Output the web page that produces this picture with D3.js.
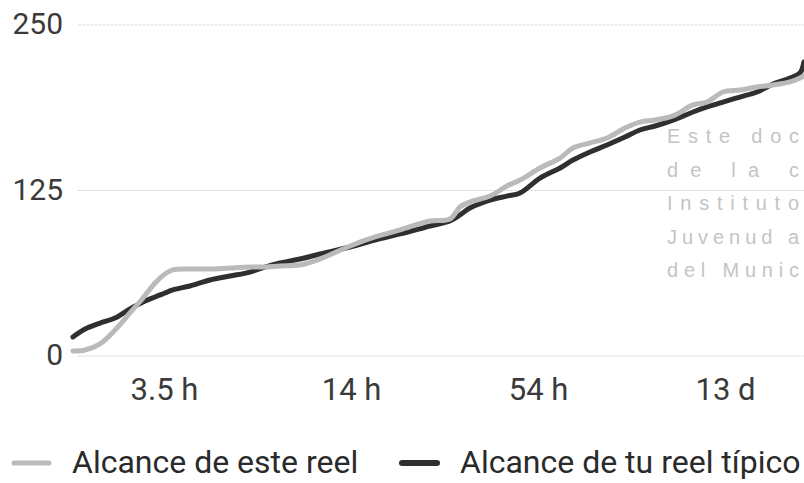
<!DOCTYPE html>
<html>
<head>
<meta charset="utf-8">
<script src="https://cdn.jsdelivr.net/npm/d3@7"></script>
<style>
  html, body { margin: 0; padding: 0; background: #fff; overflow: hidden; }
  svg { display: block; }
</style>
</head>
<body>
<svg id="chart" width="804" height="483"></svg>
<script>
// ---- data ----
const tickLabels = ["3.5 h", "14 h", "54 h", "13 d"];
const tickPos = [1, 2, 3, 4];           // time position of each tick label (tick index units)
const yTicks = [0, 125, 250];
const seriesNames = ["Alcance de este reel", "Alcance de tu reel típico"];

// time position of each sample (tick index units)
const timeIdx = [0.513, 0.578, 0.658, 0.738, 0.818, 0.888, 0.952, 1.005, 1.043, 1.139,
  1.246, 1.353, 1.460, 1.540, 1.620, 1.727, 1.834, 1.995, 2.128, 2.262,
  2.422, 2.529, 2.583, 2.636, 2.743, 2.834, 2.904, 3.011, 3.118, 3.187,
  3.278, 3.369, 3.465, 3.545, 3.626, 3.722, 3.829, 3.904, 3.989, 4.080,
  4.171, 4.257, 4.348, 4.401, 4.422];

const esteReel = [3.8, 4.5, 9.1, 19.6, 32.5, 43.8, 55.1, 61.9, 64.9, 65.7,
  65.7, 66.5, 67.2, 67.2, 68.0, 68.7, 73.3, 83.1, 89.9, 95.2,
  102.0, 103.5, 112.5, 116.3, 120.8, 128.4, 132.9, 142.0, 149.5, 157.1,
  160.9, 164.7, 172.2, 176.7, 178.2, 181.3, 189.6, 191.8, 199.4, 200.9,
  203.2, 204.7, 207.0, 210.0, 211.5];

const tuReelTipico = [14.4, 20.4, 24.9, 28.7, 35.5, 40.8, 44.6, 47.6, 49.8, 52.9,
  57.4, 60.4, 63.4, 67.2, 70.2, 73.3, 77.0, 82.3, 87.6, 92.2,
  98.2, 102.0, 106.5, 111.8, 117.8, 120.8, 123.1, 134.4, 142.0, 148.0,
  154.1, 159.4, 165.4, 170.7, 173.7, 178.2, 184.3, 188.1, 191.8, 195.6,
  199.4, 205.4, 210.0, 213.8, 222.1];

const watermark = ["Este doc", "de la c", "Instituto", "Juvenud a", "del Munic"];

// ---- drawing ----
const svg = d3.select("#chart");
const FONT = "Roboto, 'Noto Sans', sans-serif";
const colors = ["#bababa", "#2f2f2f"];

const x = d3.scaleLinear().domain([1, 4]).range([164, 725]);
const y = d3.scaleLinear().domain([0, 250]).range([356, 25]);

// gridlines
const yAxis = d3.axisLeft(y).tickValues(yTicks).tickSize(0).tickPadding(0);
const grid = svg.append("g");
grid.selectAll("line").data(yTicks).join("line")
  .attr("x1", 78).attr("x2", 804)
  .attr("y1", d => y(d)).attr("y2", d => y(d))
  .attr("stroke", "#d9d9d9").attr("stroke-width", 1)
  .attr("stroke-dasharray", "3,1");

// y axis labels
const gy = svg.append("g").attr("transform", "translate(63,-2)").call(yAxis);
gy.select(".domain").remove();
gy.selectAll("text")
  .attr("font-family", FONT).attr("font-size", 30)
  .attr("fill", "#3a3a3a").attr("text-anchor", "end").attr("dy", "0.35em");

// x axis labels
const xAxis = d3.axisBottom(x).tickValues(tickPos)
  .tickFormat((d, i) => tickLabels[i]).tickSize(0).tickPadding(0);
const gx = svg.append("g").attr("transform", "translate(0,400)").call(xAxis);
gx.select(".domain").remove();
gx.selectAll("text")
  .attr("font-family", FONT).attr("font-size", 31)
  .attr("fill", "#3a3a3a").attr("dy", 0).attr("y", 0);

// watermark (scan artifact text)
svg.append("g").selectAll("text").data(watermark).join("text")
  .attr("x", 667).attr("y", (d, i) => 143 + i * 33.5)
  .attr("font-family", "'Liberation Sans', Arial, sans-serif")
  .attr("font-size", 20)
  .attr("textLength", 132).attr("lengthAdjust", "spacing")
  .attr("fill", "#c4c4c4")
  .text(d => d);

// lines
const line = d3.line()
  .x((d, i) => x(timeIdx[i]))
  .y(d => y(d))
  .curve(d3.curveCatmullRom.alpha(0.5));

const series = [tuReelTipico, esteReel];
const seriesColors = [colors[1], colors[0]];
svg.append("g").selectAll("path").data(series).join("path")
  .attr("d", d => line(d))
  .attr("fill", "none")
  .attr("stroke", (d, i) => seriesColors[i])
  .attr("stroke-width", 5)
  .attr("stroke-linecap", "round")
  .attr("stroke-linejoin", "round");

// legend
const legendX = [12, 400];
const legendTextX = [72, 460];
const lg = svg.append("g");
seriesNames.forEach((name, i) => {
  lg.append("line")
    .attr("x1", legendX[i] + 2).attr("x2", legendX[i] + 37)
    .attr("y1", 463).attr("y2", 463)
    .attr("stroke", colors[i]).attr("stroke-width", i === 0 ? 5 : 6)
    .attr("stroke-linecap", "round");
  lg.append("text")
    .attr("x", legendTextX[i]).attr("y", 473)
    .attr("font-family", FONT).attr("font-size", 32)
    .attr("fill", "#2a2a2a")
    .text(name);
});
</script>
</body>
</html>
